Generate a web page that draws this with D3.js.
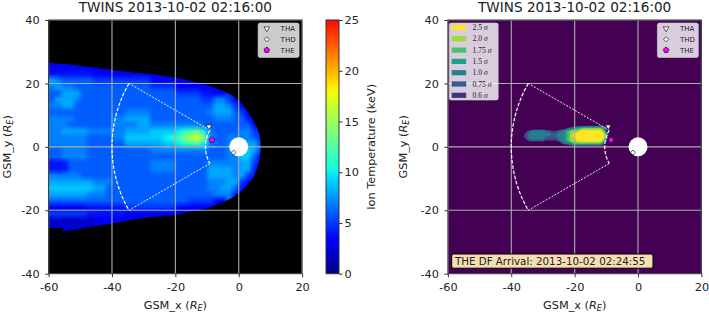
<!DOCTYPE html>
<html>
<head>
<meta charset="utf-8">
<script src="https://cdn.jsdelivr.net/npm/d3@7/dist/d3.min.js"></script>
<style>
  body { margin: 0; background: #fff; }
  svg text { font-family: "DejaVu Sans", sans-serif; fill: #222; }
</style>
</head>
<body>
<div id="chart"></div>
<script>
const titleText = "TWINS 2013-10-02 02:16:00";
const xTicks = [-60, -40, -20, 0, 20];
const yTicks = [-40, -20, 0, 20, 40];
const cbarTicks = [0, 5, 10, 15, 20, 25];

// ion temperature (keV) on 2 R_E cells, columns x = -59..9, rows y = 27..-27
// one base-36 digit per cell (a = 10 keV ...), "." = no data, spaces every 5 columns
const tempX0 = -60, tempY0 = 28, tempCell = 2, tempCols = 35;
const tempRows = [
  "",
  "33333 33",
  "44444 44333 33333 3",
  "87666 66555 55555 53333 33",
  "78776 66666 66666 65555 33333 3",
  "66888 66666 66666 66666 55554 433",
  "68887 66666 66666 66666 66665 57753",
  "77886 66666 66666 66666 66666 68875 3",
  "66666 66666 66777 76666 66666 78886 53",
  "77776 66666 77888 86666 66666 67776 64",
  "77766 66666 77778 87777 77776 66666 663",
  "77888 87777 77888 89999 abcda 76666 775",
  "77777 76666 77999 999ab ceghe 86677 7764",
  "77777 76666 66888 88899 abcca 76677 8885",
  "66777 76666 66666 67777 77777 66677 9985",
  "66777 76666 66666 66666 66666 66677 9963",
  "44466 66666 66666 67777 66666 77777 885",
  "44466 66666 66666 67777 66666 88887 884",
  "77777 66666 66666 66666 66666 88887 85",
  "88888 88777 66666 66666 66666 77788 53",
  "99999 99886 66666 66666 66666 77886 4",
  "88888 87776 66666 66666 66666 67774",
  "66666 66666 66666 66666 66555 533",
  "33333 34444 44555 55555 33333 3",
  "55555 54444 44333 33333",
  "22222 22333 3333",
  "22222 22",
  ""
];

// outline of the imaged region
const edgeX      = [-60, -55.6, -55.4, -50, -45, -40, -35, -30, -25, -20, -15, -10, -5, -2, 1, 3, 5, 6.2, 6.8, 7];
const edgeTop    = [26.6, 26.1, 26.1, 25.5, 24.9, 24.2, 23.6, 23.1, 22.6, 21.8, 20.8, 19.5, 17.6, 16.1, 13.6, 10.8, 7.5, 5, 2.5, 0];
const edgeBottom = [-25.6, -25.6, -26.6, -25.8, -24.9, -24.2, -23.2, -22.5, -21.9, -21.4, -20.4, -19.4, -17.5, -16, -13.8, -11.7, -8.8, -5.4, -2.6, 0];

// significance map (sigma) on 1 R_E cells, columns x = -38..-8, rows y = 8..0
const sigmaX0 = -38, sigmaY0 = 8, sigmaCols = 31;
const sigmaRows = [
  "",
  "",
  "..... ..... ..... .abcd deeee eeda.",
  "...ab ccccb baabc defff ggggg ggfb.",
  "..abc ccccc cbbcc defgg ggggg ggge.",
  "..abc ccccb bbbcc defgg ggggg gggd.",
  "...ab bbbba aaabc deffg ggggg ggfb.",
  "..... ..... ....a bcdee eeeee eec..",
  ""
];
const sigmaCode = {".": 0, a: 0.65, b: 0.85, c: 1.2, d: 1.6, e: 1.85, f: 2.2, g: 2.8};
const sigmaLevels = [0.6, 0.75, 1.0, 1.5, 1.75, 2.0, 2.5];
const sigmaLabels = ["0.6", "0.75", "1.0", "1.5", "1.75", "2.0", "2.5"];

// spacecraft positions (GSM, R_E)
const probes = ["THA", "THD", "THE"];
const probeX = [-9.4, -1.6, -8.5];
const probeY = [6.4, -1.8, 2.2];

// TWINS sector outline and Earth
const wedgeAngles = [150, 210];
const wedgeRadii = [10.5, 40];
const earthRadius = 3;
const arrivalText = "THE DF Arrival: 2013-10-02 02:24:55";

// ---------------------------------------------------------------
const svg = d3.select("#chart").append("svg")
    .attr("width", 709).attr("height", 313)
    .style("display", "block");
const defs = svg.append("defs");

const plotTop = 20, plotBottom = 273.7, plotWidth = 253.5;
const tickFont = "11.3px";

const tempColor = d3.scaleLinear()
    .domain([0, 3.06, 3.47, 9.44, 10.42, 13.9, 17.8, 18.33, 24.7, 25])
    .range(["#000080", "#0000f6", "#0000ff", "#00dbff", "#14ffe2", "#7bff7b", "#eeff08", "#ffed00", "#ff1300", "#f30900"])
    .clamp(true);

const sigmaColors = ["#46327e", "#365c8d", "#277f8e", "#1fa187", "#4ac16d", "#a0da39", "#fde725"];

function panelScales(left) {
    return {
        x: d3.scaleLinear().domain([-60, 20]).range([left, left + plotWidth]),
        y: d3.scaleLinear().domain([-40, 40]).range([plotBottom, plotTop])
    };
}

function reLabel(sel, prefix) {
    sel.append("tspan").text(prefix + " (");
    sel.append("tspan").attr("font-style", "italic").text("R");
    sel.append("tspan").attr("font-size", "8px").attr("font-style", "italic").attr("dy", 2.5).text("E");
    sel.append("tspan").attr("dy", -2.5).text(")");
}

function probeMarker(sel, name) {
    if (name === "THA") {
        sel.append("path").attr("d", d3.symbol(d3.symbolTriangle, 14)())
            .attr("transform", "rotate(180)").attr("fill", "#fff");
    } else if (name === "THD") {
        sel.append("path").attr("d", d3.symbol(d3.symbolSquare, 13)())
            .attr("transform", "rotate(45)").attr("fill", "#fff");
    } else {
        const pts = d3.range(5).map(k => {
            const a = (-90 + 72 * k) * Math.PI / 180;
            return [3 * Math.cos(a), 3 * Math.sin(a)];
        });
        sel.append("path").attr("d", d3.line()(pts) + "Z").attr("fill", "#ff00ff");
    }
    sel.select("path").attr("stroke", "#000").attr("stroke-width", 0.6);
}

function drawPanel(left, id, ylabelOffset, drawContent, drawExtras) {
    const {x, y} = panelScales(left);
    const g = svg.append("g");

    defs.append("clipPath").attr("id", "plot" + id).append("rect")
        .attr("x", x(-60)).attr("y", y(40))
        .attr("width", x(20) - x(-60)).attr("height", y(-40) - y(40));

    const inner = g.append("g").attr("clip-path", `url(#plot${id})`);
    drawContent(inner, x, y);

    // grid
    inner.append("g").selectAll("line").data(xTicks).join("line")
        .attr("x1", d => x(d)).attr("x2", d => x(d))
        .attr("y1", plotTop).attr("y2", plotBottom)
        .attr("stroke", "#acacac").attr("stroke-width", 1.1);
    inner.append("g").selectAll("line").data(yTicks).join("line")
        .attr("y1", d => y(d)).attr("y2", d => y(d))
        .attr("x1", x(-60)).attr("x2", x(20))
        .attr("stroke", "#acacac").attr("stroke-width", 1.1);

    // TWINS sector
    const cx = x(0), cy = y(0), k = x(1) - x(0), rad = Math.PI / 180;
    const wedge = inner.append("g").attr("fill", "none").attr("stroke", "#fff");
    wedgeRadii.forEach(r => {
        const p = d3.path();
        p.arc(cx, cy, r * k, -wedgeAngles[0] * rad, -wedgeAngles[1] * rad, true);
        wedge.append("path").attr("d", p.toString())
            .attr("stroke-width", 1.2).attr("stroke-dasharray", "3.7,1.6");
    });
    wedgeAngles.forEach(a => {
        wedge.append("line")
            .attr("x1", x(wedgeRadii[0] * Math.cos(a * rad))).attr("y1", y(wedgeRadii[0] * Math.sin(a * rad)))
            .attr("x2", x(wedgeRadii[1] * Math.cos(a * rad))).attr("y2", y(wedgeRadii[1] * Math.sin(a * rad)))
            .attr("stroke-width", 0.9).attr("stroke-dasharray", "2,1.4");
    });

    // Earth
    inner.append("circle").attr("cx", cx).attr("cy", cy)
        .attr("r", earthRadius * k).attr("fill", "#fff");

    // spacecraft
    probes.forEach((name, i) => {
        const m = inner.append("g").attr("transform", `translate(${x(probeX[i])},${y(probeY[i])})`);
        probeMarker(m, name);
    });

    // spacecraft legend
    const lg = g.append("g").attr("transform", `translate(${left + 209.5},23)`);
    lg.append("rect").attr("width", 41).attr("height", 34.5).attr("rx", 2)
        .attr("fill", "#fff").attr("fill-opacity", 0.8)
        .attr("stroke", "#ccc").attr("stroke-opacity", 0.8).attr("stroke-width", 0.8);
    probes.forEach((name, i) => {
        const row = lg.append("g").attr("transform", `translate(0,${5.5 + i * 10.8})`);
        probeMarker(row.append("g").attr("transform", "translate(8.7,0)"), name);
        row.append("text").attr("x", 22.5).attr("dy", "0.35em")
            .style("font-size", "7px").text(name);
    });

    if (drawExtras) drawExtras(g, x, y);

    // frame
    g.append("rect").attr("x", x(-60)).attr("y", y(40))
        .attr("width", x(20) - x(-60)).attr("height", y(-40) - y(40))
        .attr("fill", "none").attr("stroke", "#333").attr("stroke-width", 1);

    // axes
    const ax = g.append("g").attr("transform", `translate(0,${plotBottom})`)
        .call(d3.axisBottom(x).tickValues(xTicks).tickFormat(d => String(d))
            .tickSize(3.5).tickPadding(6));
    const ay = g.append("g").attr("transform", `translate(${x(-60)},0)`)
        .call(d3.axisLeft(y).tickValues(yTicks).tickFormat(d => String(d))
            .tickSize(3.5).tickPadding(5.5));
    [ax, ay].forEach(a => {
        a.select(".domain").remove();
        a.attr("font-family", "DejaVu Sans").attr("font-size", tickFont);
        a.selectAll(".tick line").attr("stroke", "#333");
        a.selectAll(".tick text").attr("fill", "#222");
    });

    // title and labels
    g.append("text").attr("x", (x(-60) + x(20)) / 2).attr("y", 12)
        .attr("text-anchor", "middle").style("font-size", "13.6px").text(titleText);
    reLabel(g.append("text").attr("x", (x(-60) + x(20)) / 2).attr("y", 308.5)
        .attr("text-anchor", "middle").style("font-size", tickFont), "GSM_x");
    reLabel(g.append("text")
        .attr("transform", `translate(${left - ylabelOffset},${(plotTop + plotBottom) / 2}) rotate(-90)`)
        .attr("text-anchor", "middle").style("font-size", tickFont), "GSM_y");
}

// ---------------- left panel: ion temperature ----------------
drawPanel(48.6, "L", 38, (g, x, y) => {
    g.append("rect").attr("x", x(-60)).attr("y", y(40))
        .attr("width", x(20) - x(-60)).attr("height", y(-40) - y(40)).attr("fill", "#000");

    const rows = tempRows.map(r => r.replace(/ /g, "").padEnd(tempCols, "."));
    const nRows = rows.length;
    const grid = rows.map(r => Array.from(r, ch => ch === "." ? null : parseInt(ch, 36)));
    // cells outside the region take the nearest value in their column (only seen at the soft edge)
    for (let c = 0; c < tempCols; c++) {
        for (let r = 0; r < nRows; r++) {
            if (grid[r][c] !== null) continue;
            let best = null, bd = Infinity;
            rows.forEach((row, k) => {
                if (row[c] !== "." && Math.abs(k - r) < bd) { bd = Math.abs(k - r); best = parseInt(row[c], 36); }
            });
            grid[r][c] = best;
        }
        if (grid[0][c] === null && c > 0) for (let r = 0; r < nRows; r++) grid[r][c] = grid[r][c - 1];
    }

    const canvas = document.createElement("canvas");
    canvas.width = tempCols; canvas.height = nRows;
    const ctx = canvas.getContext("2d");
    const img = ctx.createImageData(tempCols, nRows);
    grid.forEach((row, r) => row.forEach((v, c) => {
        const col = d3.rgb(tempColor(v)), i = (r * tempCols + c) * 4;
        img.data[i] = col.r; img.data[i + 1] = col.g; img.data[i + 2] = col.b; img.data[i + 3] = 255;
    }));
    ctx.putImageData(img, 0, 0);

    const region = d3.area()
        .x((d, i) => x(edgeX[i]))
        .y0((d, i) => y(edgeBottom[i]))
        .y1((d, i) => y(edgeTop[i]))
        .curve(d3.curveMonotoneX);
    defs.append("clipPath").attr("id", "regionL").append("path").attr("d", region(edgeX));

    g.append("image")
        .attr("href", canvas.toDataURL())
        .attr("x", x(tempX0)).attr("y", y(tempY0))
        .attr("width", x(tempX0 + tempCols * tempCell) - x(tempX0))
        .attr("height", y(tempY0 - nRows * tempCell) - y(tempY0))
        .attr("preserveAspectRatio", "none")
        .attr("clip-path", "url(#regionL)");
});

// colorbar
const cbX = 326, cbW = 13;
const cbScale = d3.scaleLinear().domain([0, 25]).range([plotBottom, plotTop]);
const grad = defs.append("linearGradient").attr("id", "jetGrad")
    .attr("x1", 0).attr("y1", 1).attr("x2", 0).attr("y2", 0);
d3.range(0, 25.01, 0.25).forEach(v =>
    grad.append("stop").attr("offset", v / 25).attr("stop-color", tempColor(v)));
svg.append("rect").attr("x", cbX).attr("y", plotTop).attr("width", cbW)
    .attr("height", plotBottom - plotTop).attr("fill", "url(#jetGrad)")
    .attr("stroke", "#333").attr("stroke-width", 1);
const cbAxis = svg.append("g").attr("transform", `translate(${cbX + cbW},0)`)
    .call(d3.axisRight(cbScale).tickValues(cbarTicks).tickSize(3.5).tickPadding(2));
cbAxis.select(".domain").remove();
cbAxis.attr("font-family", "DejaVu Sans").attr("font-size", tickFont);
cbAxis.selectAll(".tick line").attr("stroke", "#333");
cbAxis.selectAll(".tick text").attr("fill", "#222");
svg.append("text")
    .attr("transform", `translate(375,${(plotTop + plotBottom) / 2}) rotate(-90)`)
    .attr("text-anchor", "middle").style("font-size", tickFont)
    .text("Ion Temperature (keV)");

// ---------------- right panel: significance ----------------
drawPanel(447.9, "R", 41, (g, x, y) => {
    g.append("rect").attr("x", x(-60)).attr("y", y(40))
        .attr("width", x(20) - x(-60)).attr("height", y(-40) - y(40)).attr("fill", "#440154");

    const rows = sigmaRows.map(r => r.replace(/ /g, "").padEnd(sigmaCols, "."));
    const values = rows.flatMap(r => Array.from(r, ch => sigmaCode[ch]));
    const bands = d3.contours().size([sigmaCols, rows.length]).thresholds(sigmaLevels)(values);
    const proj = d3.geoTransform({
        point(px, py) { this.stream.point(x(sigmaX0 + px - 0.5), y(sigmaY0 - (py - 0.5))); }
    });
    const path = d3.geoPath(proj);
    g.append("g").selectAll("path").data(bands).join("path")
        .attr("d", path)
        .attr("fill", (d, i) => sigmaColors[i]);
}, (g, x, y) => {
    // sigma legend
    const lg = g.append("g").attr("transform", `translate(${x(-60) + 1.3},23)`);
    lg.append("rect").attr("width", 49).attr("height", 77).attr("rx", 2)
        .attr("fill", "#fff").attr("fill-opacity", 0.8)
        .attr("stroke", "#ccc").attr("stroke-opacity", 0.8).attr("stroke-width", 0.8);
    const order = d3.range(sigmaLevels.length).reverse();
    order.forEach((li, i) => {
        const row = lg.append("g").attr("transform", `translate(0,${4.5 + i * 11.3})`);
        row.append("rect").attr("x", 2.5).attr("y", -2.6).attr("width", 14.5).attr("height", 5.2)
            .attr("fill", sigmaColors[li]);
        const t = row.append("text").attr("x", 23.3).attr("dy", "0.35em")
            .style("font-family", "Liberation Serif, DejaVu Serif, serif").style("font-size", "7.6px");
        t.append("tspan").text(sigmaLabels[li] + " ");
        t.append("tspan").attr("font-style", "italic").text("σ");
    });

    // arrival annotation
    const ag = g.append("g").attr("transform", "translate(451.7,254)");
    ag.append("rect").attr("width", 201.3).attr("height", 14.2).attr("rx", 2)
        .attr("fill", "#f5deb3").attr("stroke", "#000").attr("stroke-width", 1);
    ag.append("text").attr("x", 3.2).attr("y", 11).style("font-size", "10.3px").text(arrivalText);
});
</script>
</body>
</html>
